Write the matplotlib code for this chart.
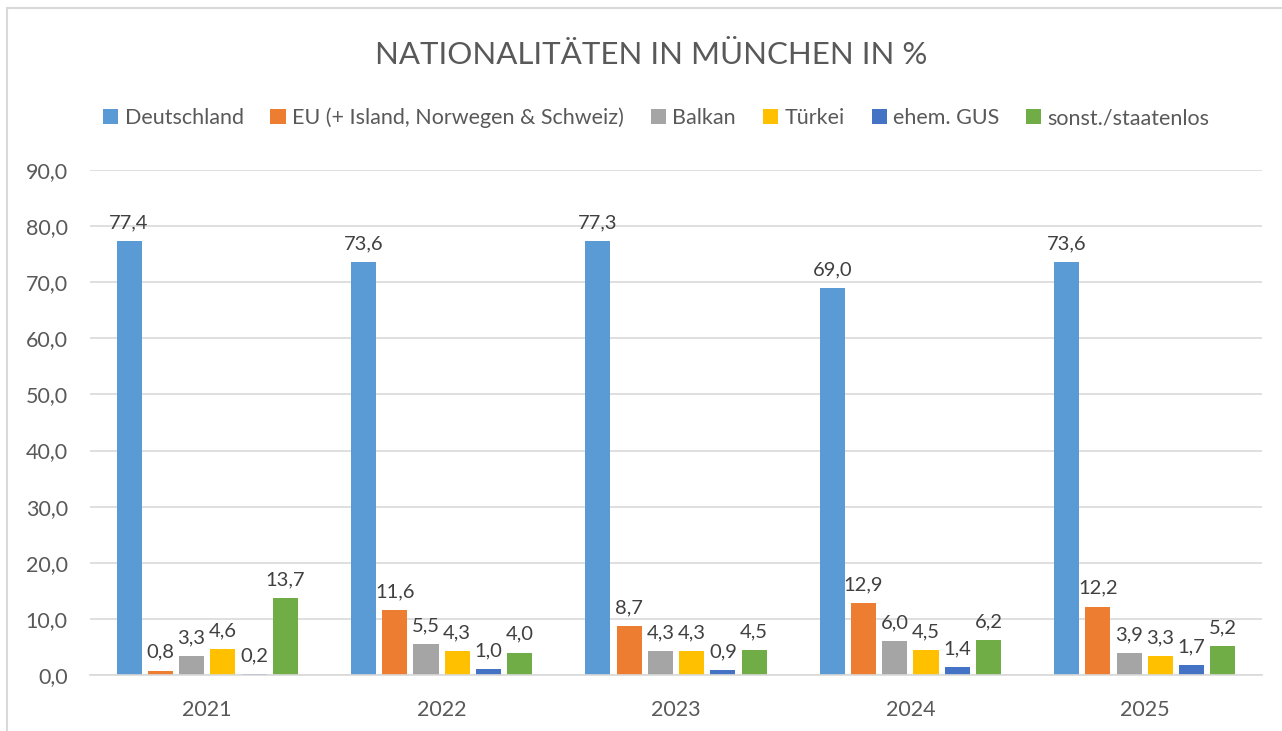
import numpy as np
import matplotlib.pyplot as plt
from matplotlib.patches import Rectangle

jahre = ["2021", "2022", "2023", "2024", "2025"]
serien = ["Deutschland", "EU (+ Island, Norwegen & Schweiz)", "Balkan",
          "Türkei", "ehem. GUS", "sonst./staatenlos"]
deutschland = [77.4, 73.6, 77.3, 69.0, 73.6]
eu = [0.8, 11.6, 8.7, 12.9, 12.2]
balkan = [3.3, 5.5, 4.3, 6.0, 3.9]
tuerkei = [4.6, 4.3, 4.3, 4.5, 3.3]
gus = [0.2, 1.0, 0.9, 1.4, 1.7]
sonst = [13.7, 4.0, 4.5, 6.2, 5.2]
farben = ["#5B9BD5", "#ED7D31", "#A5A5A5", "#FFC000", "#4472C4", "#70AD47"]

plt.rcParams["font.family"] = ["Lato", "DejaVu Sans"]
txt = "#595959"

fig = plt.figure(figsize=(12.82, 7.31), dpi=100)
# Rahmen (rechts/unten abgeschnitten)
fig.patches.append(Rectangle((7 / 1282, -0.1), 1.2, 1 - 8 / 731 + 0.1,
                             transform=fig.transFigure, fill=False,
                             edgecolor="#D9D9D9", linewidth=1.5))

ax = fig.add_axes([90 / 1282, 1 - 675 / 731, 1172 / 1282, 505 / 731])
x = np.arange(len(jahre))
step = 0.1333
breite = 0.107
werte = [deutschland, eu, balkan, tuerkei, gus, sonst]
for i, (name, w) in enumerate(zip(serien, werte)):
    pos = x + (i - 2.5) * step
    bars = ax.bar(pos, w, breite, color=farben[i], label=name, zorder=2)
    ax.bar_label(bars, labels=[f"{v:.1f}".replace(".", ",") for v in w],
                 padding=7, fontsize=14.5, color="#404040")

ax.set_ylim(0, 90)
ax.set_xlim(-0.5, 4.5)
ax.set_yticks(np.arange(0, 91, 10))
ax.set_yticklabels([f"{v:.1f}".replace(".", ",") for v in np.arange(0, 91, 10)])
ax.set_xticks(x)
ax.set_xticklabels(jahre)
ax.tick_params(axis="both", length=0, labelsize=15.5, colors=txt)
ax.tick_params(axis="x", pad=18)
ax.tick_params(axis="y", pad=16)
ax.grid(axis="y", color="#D9D9D9", linewidth=1.2, zorder=0)
for s in ["top", "right", "left"]:
    ax.spines[s].set_visible(False)
ax.spines["bottom"].set_color("#D9D9D9")
ax.spines["bottom"].set_linewidth(1.2)

fig.text(0.508, 1 - 55 / 731, "NATIONALITÄTEN IN MÜNCHEN IN %", ha="center",
         va="center", fontsize=22.5, color=txt)
fig.legend(loc="center", bbox_to_anchor=(0.512, 1 - 118 / 731), ncol=6,
           frameon=False, fontsize=15.5, handlelength=0.7, handleheight=0.7,
           handletextpad=0.3, columnspacing=1.25, labelcolor=txt)

fig.savefig("out.png", dpi=100)
